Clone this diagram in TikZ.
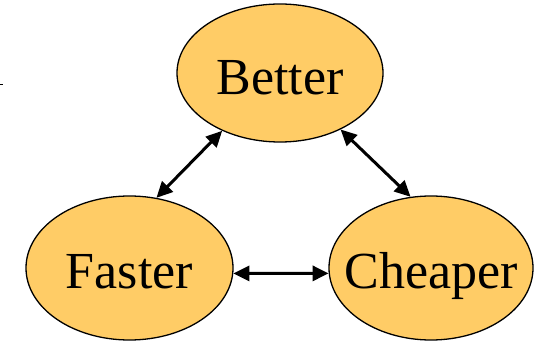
\documentclass[tikz,border=0pt]{standalone}
\usepackage{fontspec}
\setmainfont{Liberation Serif}
\usetikzlibrary{shapes.geometric,arrows.meta}
\definecolor{goldfill}{RGB}{255,204,102}
\begin{document}
\begin{tikzpicture}[x=1pt,y=-1pt,
  blob/.style={ellipse,draw=black,line width=1.3pt,fill=goldfill,inner xsep=-45pt,inner ysep=0pt,
    font=\fontsize{52}{60}\selectfont,text depth=0pt},
  link/.style={line width=3pt,{Triangle[length=16pt,width=15pt]}-{Triangle[length=16pt,width=15pt]}}]
\useasboundingbox (0,0) rectangle (543,342);
\node[blob,minimum width=206pt,minimum height=138pt,text height=44pt] (better) at (280,73) {Better};
\node[blob,minimum width=207pt,minimum height=144pt,text height=40pt] (faster) at (129.5,268) {Faster};
\node[blob,minimum width=204pt,minimum height=144pt,text height=40pt] (cheaper) at (431,268) {Cheaper};
\draw[link] (faster.69) -- (better.225);
\draw[link] (better.-43) -- (cheaper.106);
\draw[link] (faster.-3) -- (cheaper.183);
\coordinate (tickA) at (0,85);
\coordinate (tickB) at (2.5,85);
\draw[line width=1pt] (tickA) -- (tickB);
\end{tikzpicture}
\end{document}
